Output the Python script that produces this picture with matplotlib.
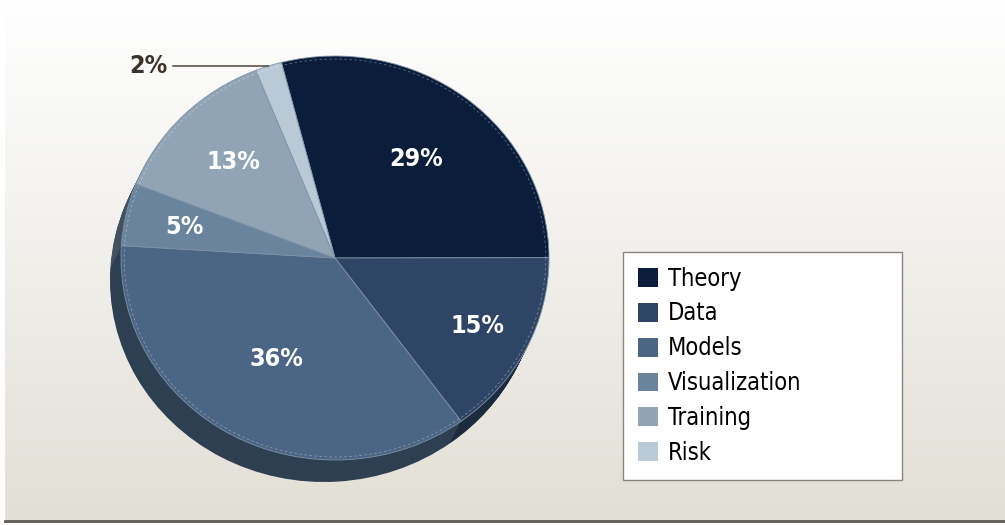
"""
plot.py
3D風の円グラフ（背景グラデーション＋凡例）を描く
"""

import matplotlib
matplotlib.use("Agg")

import matplotlib.pyplot as plt
import matplotlib.colors as mcolors
from matplotlib.patches import Patch
import numpy as np

# データ
categories = ["Theory", "Data", "Models", "Visualization", "Training", "Risk"]
shares = [29, 15, 36, 5, 13, 2]
slice_colors = ["#0a1d3b", "#2f4566", "#4b6584", "#6b849d", "#90a4b5", "#b9cad6"]

plt.rcParams["font.family"] = ["DejaVu Sans"]
plt.rcParams["font.stretch"] = "condensed"

W, H = 1005, 525
CX, CY = 335, 258          # 円の中心（px, 上から）
RX, RY = 214, 202          # 横・縦の半径（px）
START = 104.5

fig = plt.figure(figsize=(W / 100, H / 100), dpi=100)
fig.patch.set_facecolor("white")

# 背景グラデーション
bg = fig.add_axes([5 / W, 4 / H, 1 - 5 / W, 1 - 4 / H])
top = np.array(mcolors.to_rgb("#ffffff"))
bot = np.array(mcolors.to_rgb("#e2dfd6"))
t = np.linspace(0, 1, 256)[:, None]
grad = (top * (1 - t) + bot * t)[:, None, :]
bg.imshow(grad, aspect="auto", extent=[0, 1, 0, 1])
bg.axis("off")
fig.add_artist(plt.Line2D([5 / W, 1], [4 / H, 4 / H], color="#5f5850", lw=2))

# 円グラフ用の軸（全体を覆い、単位円 = RX x RY px）
ax = fig.add_axes([0, 0, 1, 1])
ax.patch.set_alpha(0)

# 側面（厚み）: 少しずつずらして暗い色で重ねる
dark = [tuple(np.array(mcolors.to_rgb(c)) * 0.62) for c in slice_colors]
depth_dx, depth_dy = -11 / RX, -22 / RY
for k in np.linspace(1, 0.05, 22):
    ax.pie(shares, colors=dark, startangle=START, counterclock=False,
           center=(depth_dx * k, depth_dy * k), radius=1,
           wedgeprops=dict(linewidth=0), normalize=True)

# 上面
wedges, _ = ax.pie(shares, colors=slice_colors, startangle=START, counterclock=False,
                   radius=1, wedgeprops=dict(edgecolor="#7f93a8", linewidth=0.6))
for w in wedges:
    w.set_zorder(5)

# 上面の縁の点線
th = np.linspace(0, 2 * np.pi, 400)
ax.plot(0.985 * np.cos(th), 0.985 * np.sin(th), ls=(0, (3, 3)), lw=0.6,
        color="white", alpha=0.35, zorder=6)

ax.set_aspect("auto")
ax.set_xlim(-CX / RX, (W - CX) / RX)
ax.set_ylim(-(H - CY) / RY, CY / RY)
ax.axis("off")

# 値ラベル
label_r = [0.62, 0.745, 0.57, 0.72, 0.67]
for w, v, r in zip(wedges[:5], shares[:5], label_r):
    mid = np.deg2rad((w.theta1 + w.theta2) / 2)
    ax.text(r * np.cos(mid), r * np.sin(mid), f"{v}%", color="white",
            fontsize=18, fontweight="bold", ha="center", va="center", zorder=10)

# 2% は外側に引き出し線
w = wedges[5]
mid = np.deg2rad((w.theta1 + w.theta2) / 2)
ax.annotate(f"{shares[5]}%", xy=(np.cos(mid), np.sin(mid)),
            xytext=(148, H - 66), textcoords="figure pixels",
            ha="center", va="center", fontsize=18, fontweight="bold",
            color="#3b332a", zorder=10,
            arrowprops=dict(arrowstyle="-", color="#3b332a", lw=1,
                            shrinkA=2, shrinkB=0, relpos=(1, 0.5)))

# 凡例
handles = [Patch(facecolor=c, edgecolor="none") for c in slice_colors]
leg = fig.legend(handles, categories, loc="upper left",
                 bbox_to_anchor=(623 / W, 1 - 252 / H, 279 / W, 0),
                 mode="expand", borderaxespad=0, fontsize=17,
                 handlelength=0.85, handleheight=0.85, handletextpad=0.42,
                 labelspacing=0.46, borderpad=0.62, fancybox=False,
                 frameon=True, framealpha=1)
leg.get_frame().set_edgecolor("#8a857e")
leg.get_frame().set_linewidth(1)

fig.savefig("out.png", dpi=100)
